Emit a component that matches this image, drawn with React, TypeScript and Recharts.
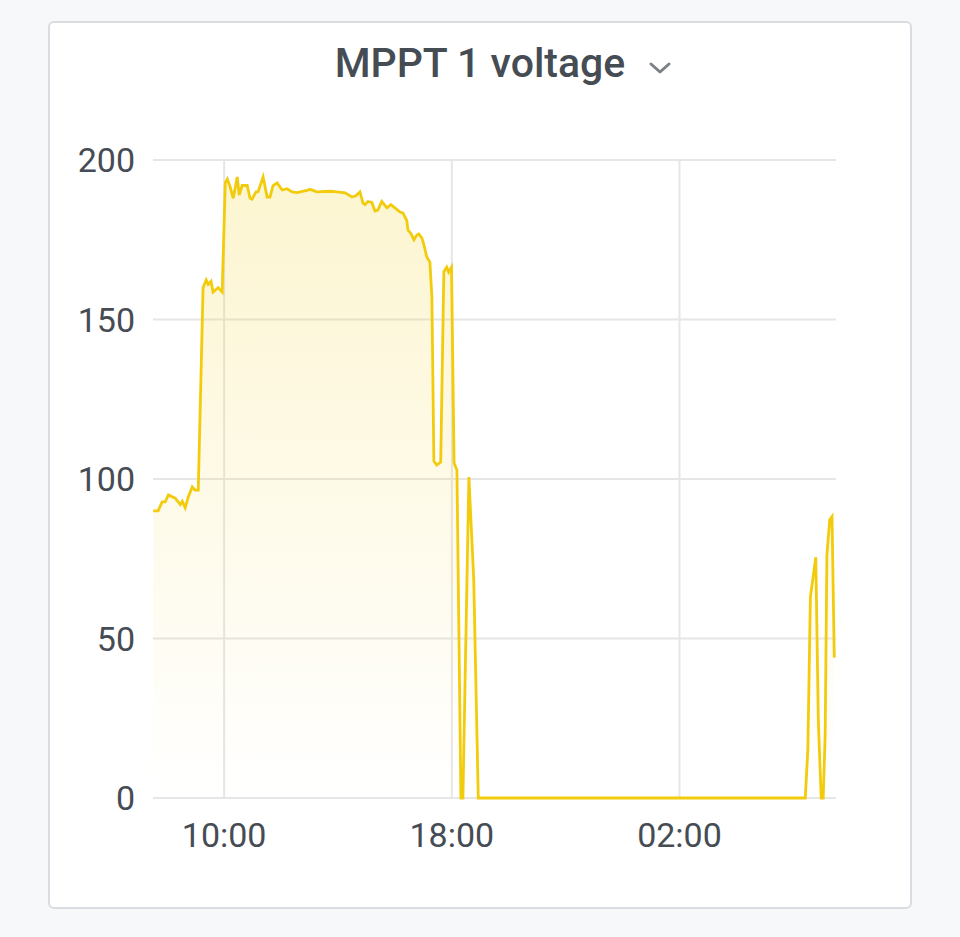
import { ComposedChart, Area, XAxis, YAxis, CartesianGrid } from 'recharts';

// hours since midnight of the first day (values > 24 are the next morning)
const hours = [
    7.51, 7.68, 7.82, 7.93, 8.04, 8.28, 8.46, 8.53, 8.63, 8.74, 8.88, 8.98, 9.09,
    9.26, 9.37, 9.44, 9.54, 9.61, 9.79, 9.93,
    10.04, 10.11, 10.21, 10.32, 10.46, 10.53, 10.63, 10.81, 10.91, 10.98,
    11.12, 11.19, 11.37, 11.51, 11.61, 11.72, 11.86, 12.04, 12.21, 12.39, 12.56,
    12.91, 13.02, 13.26, 13.72, 13.96, 14.25, 14.49, 14.63, 14.77, 14.88, 14.95,
    15.05, 15.19, 15.3, 15.4, 15.54, 15.72, 15.86, 16.0, 16.18, 16.28, 16.42,
    16.46, 16.56, 16.67, 16.77, 16.84, 16.95, 17.02, 17.12, 17.23, 17.3, 17.37,
    17.47, 17.61, 17.72, 17.82, 17.89, 17.99, 18.08, 18.18, 18.32, 18.39, 18.6,
    18.77, 18.93,
    30.42, 30.51, 30.6, 30.79, 30.88, 30.98, 31.05, 31.12, 31.18, 31.28, 31.36, 31.44,
];

const voltage = [
    90, 90, 92.8, 92.8, 95, 94, 92, 93, 91, 94.4, 97.5, 96.5, 96.5,
    160, 162.4, 161, 162, 158.6, 160, 158.6,
    192.8, 194, 191.6, 188, 194.7, 189, 192, 192, 188, 187.7,
    190, 190, 194.7, 188.4, 188.4, 192, 192.8, 190.6, 191, 190, 189.8,
    190.5, 190.8, 190, 190.2, 190, 189.7, 188.4, 188.8, 190, 186.5, 186,
    187, 186.7, 184, 184.3, 187, 185, 186, 185, 183.7, 183.4, 181,
    178, 177, 175, 176.5, 176.8, 175.5, 173.4, 169.6, 168, 157, 105.6,
    104.4, 105.3, 165, 166.4, 164.8, 166.4, 105, 102.8, 0, 0, 100.6,
    68.7, 0,
    0, 15, 63, 75.5, 24, 0, 0, 20, 76, 87.2, 88.2, 44,
];

const xTicks = [10, 18, 26];
const yTicks = [0, 50, 100, 150, 200];

const data = hours.map((t, i) => ({ t, v: voltage[i] }));

const fmtHour = (h: number) => `${String(h % 24).padStart(2, '0')}:00`;

const tickStyle = { fill: '#464c54', fontSize: 34, fontFamily: 'Roboto' };

export default function App() {
    return (
        <div style={{ position: 'fixed', left: 0, top: 0, width: 960, height: 937, background: '#f7f8fa' }}>
            <div
                style={{
                    position: 'absolute',
                    left: 48,
                    top: 21,
                    width: 864,
                    height: 888,
                    boxSizing: 'border-box',
                    border: '2px solid #d9dce1',
                    borderRadius: 6,
                    background: '#ffffff',
                }}
            />
            <svg width={960} height={120} style={{ position: 'absolute', left: 0, top: 0 }}>
                <text x={480} y={77} textAnchor="middle" fill="#464c54" fontSize={41} fontWeight={500} fontFamily="Roboto">
                    MPPT 1 voltage
                </text>
                <polyline points="651,64 660,72 669,64" fill="none" stroke="#7b8087" strokeWidth={3} strokeLinecap="round" strokeLinejoin="round" />
            </svg>
            <div style={{ position: 'absolute', left: 0, top: 0 }}>
                <ComposedChart width={960} height={937} data={data} margin={{ top: 160, right: 124, bottom: 79, left: 0 }}>
                    <defs>
                        <linearGradient id="voltFill" x1="0" y1="0" x2="0" y2="1">
                            <stop offset="0%" stopColor="#f2cc0c" stopOpacity={0.32} />
                            <stop offset="100%" stopColor="#f2cc0c" stopOpacity={0} />
                        </linearGradient>
                    </defs>
                    <CartesianGrid stroke="#e6e6e6" strokeWidth={2} verticalValues={xTicks} horizontalValues={yTicks} />
                    <XAxis
                        dataKey="t"
                        type="number"
                        domain={[7.5, 31.5]}
                        ticks={xTicks}
                        tickFormatter={fmtHour}
                        axisLine={false}
                        tickLine={false}
                        tickSize={0}
                        tickMargin={25}
                        height={60}
                        tick={tickStyle}
                        allowDataOverflow
                    />
                    <YAxis
                        type="number"
                        domain={[0, 200]}
                        ticks={yTicks}
                        axisLine={false}
                        tickLine={false}
                        tickSize={0}
                        tickMargin={18}
                        width={153}
                        tick={tickStyle}
                    />
                    <Area
                        type="linear"
                        dataKey="v"
                        stroke="#f2cc0c"
                        strokeWidth={2.8}
                        fill="url(#voltFill)"
                        dot={false}
                        activeDot={false}
                        isAnimationActive={false}
                    />
                </ComposedChart>
            </div>
        </div>
    );
}
